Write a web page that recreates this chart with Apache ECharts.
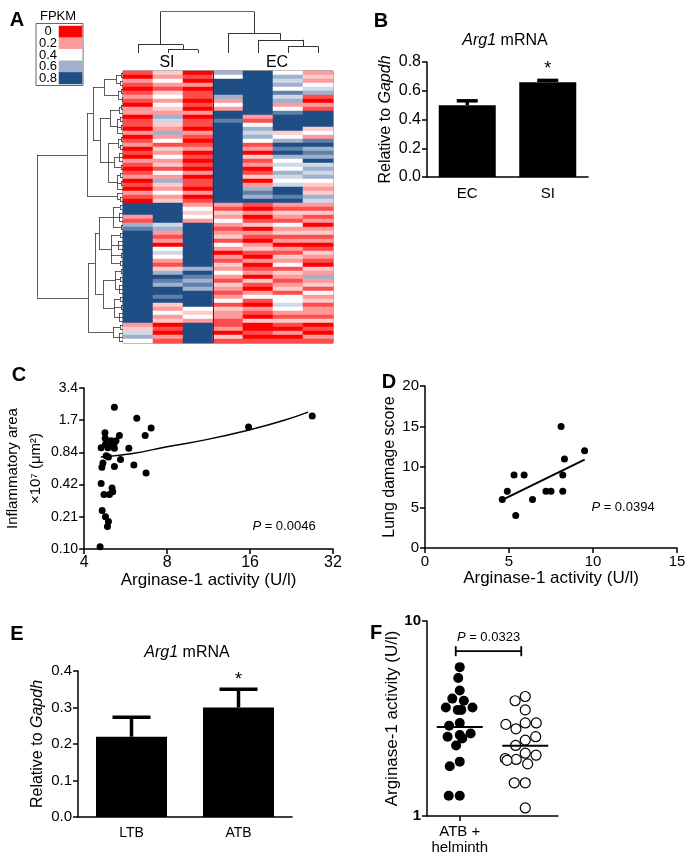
<!DOCTYPE html>
<html><head><meta charset="utf-8">
<script src="https://cdn.jsdelivr.net/npm/echarts@6/dist/echarts.min.js"></script>
<style>html,body{margin:0;padding:0;background:#fff}#c{width:700px;height:862px}</style>
</head><body><div id="c"></div>
<script>
// ================= DATA =================
// Panel A heatmap: one digit per row (value = digit / 10, FPKM scale 0..0.8), top row first
const heatColumns = ['SI-1', 'SI-2', 'SI-3', 'EC-1', 'EC-2', 'EC-3', 'EC-4'];
const heatSI1 = ['102101210220110201201021012010210', '8882167', '88888888888888888888888', '23564'].join('');
const heatSI2 = ['32421342432', '65', '32', '6', '24132423142', '6', '32423', '88888', '56', '2120', '454', '213', '68768878', '32423', '01021'].join('');
const heatSI3 = ['010201101020110210120101020110201', '24342', '88888888888', '6876768', '888', '4342', '88888'].join('');
const heatEC1 = ['648', '888', '6', '242', '887', '88888888888888888888', '213242123142021324213212413221', '12031'].join('');
const heatEC2 = ['88888888888', '21', '46564', '12031201302', '676', '8', '102013021023102012031024102103', '00101'].join('');
const heatEC3 = ['46564756', '24', '78888', '34', '68786', '4546545', '8878', '213214231202132413212314', '454', '213', '10201'].join('');
const heatEC4 = ['2324', '56', '1021', '8888', '342', '786768', '5656', '4323', '65', '213120231201321032', '6', '23142312213', '01021'].join('');
const heatStrings = [heatSI1, heatSI2, heatSI3, heatEC1, heatEC2, heatEC3, heatEC4];
const siColumnCount = 3;
const fpkmLevels = ['0', '0.2', '0.4', '0.6', '0.8'];
// dendrograms: [height, child, child, ...]; leaves are column / row indices
const colTree = [12.5, [2.5, 0, [1, 1, 2]], [6, 3, [4, 4, [2, 5, 6]]]];
const rowTree =
  [86,
    [36,
      [30,
        [19, [7, [2, 0, 1], [3, 2, 3]], [5, [2, 4, 5], [1, 6, 7]]],
        [23,
          [13, [4, [2, 8, 9], 10], [6, [3, 11, 12], [2, 13, 14], 15]],
          [15, [5, [2, 16, 17], [3, 18, 19]], [9, [4, 20, 21, 22], [2, 23, 24]], [6, [3, 25, 26], [2, 27, 28], 29]]]],
      [6, 30, [3, 31, 32]]],
    [35,
      [28,
        [24, [10, [3, 33, 34], [4, 35, 36, 37], [2, 38, 39]], [12, [3, 40, 41], [5, 42, 43, 44], [2, 45, 46], [3, 47, 48]]],
        [20, [8, [2, 49, 50], [3, 51, 52], [4, 53, 54, 55]], [9, [3, 56, 57], [2, 58, 59], [4, 60, 61, 62]]]],
      [10, [3, 63, 64], [4, 65, 66, 67]]]];

// Panel B
const bCategories = ['EC', 'SI'];
const bMeans = [0.50, 0.66];
const bErrors = [0.03, 0.012];
const bSig = ['', '*'];

// Panel C
const cActivity = [5.15, 6.21, 7.0, 6.66, 4.76, 5.37, 4.77, 5.01, 5.22, 4.78, 4.97, 5.14, 4.61, 4.88, 5.15, 5.81, 4.81, 4.90, 5.42, 4.68, 4.64, 5.15, 6.06, 6.71, 4.61, 5.05, 4.72, 4.94, 5.08, 4.65, 4.78, 4.90, 4.86, 4.57, 15.8, 26.9];
const cArea = [2.22, 1.75, 1.42, 1.21, 1.28, 1.21, 1.14, 1.08, 1.08, 1.00, 0.97, 1.02, 0.93, 0.93, 0.92, 0.92, 0.78, 0.76, 0.72, 0.67, 0.61, 0.62, 0.64, 0.54, 0.43, 0.39, 0.34, 0.34, 0.36, 0.24, 0.21, 0.19, 0.17, 0.11, 1.45, 1.84];
const cFitX = [4.6, 6, 8, 11, 16, 21, 26];
const cFitY = [0.76, 0.82, 0.95, 1.1, 1.37, 1.66, 2.0];
const cXTicks = [4, 8, 16, 32];
const cYTickValues = [0.105, 0.21, 0.42, 0.84, 1.68, 3.36];
const cYTickLabels = ['0.10', '0.21', '0.42', '0.84', '1.7', '3.4'];
const cP = '0.0046';

// Panel D
const dActivity = [4.6, 4.9, 5.3, 5.4, 5.9, 6.4, 7.2, 7.5, 8.1, 8.2, 8.2, 8.3, 9.5];
const dScore = [6, 7, 9, 4, 9, 6, 7, 7, 15, 9, 7, 11, 12];
const dFitX = [4.6, 9.5];
const dFitY = [5.95, 10.9];
const dP = '0.0394';

// Panel E
const eCategories = ['LTB', 'ATB'];
const eMeans = [0.22, 0.30];
const eErrors = [0.053, 0.05];
const eSig = ['', '*'];

// Panel F
const fCategories = ['ATB +\nhelminth', 'ATB'];
const fHelminth = [5.8, 5.1, 4.4, 4.0, 3.9, 3.6, 3.6, 3.5, 3.5, 3.0, 2.9, 2.6, 2.65, 2.55, 2.5, 2.3, 1.9, 1.8, 1.27, 1.27];
const fAtb = [4.1, 3.9, 3.5, 3.0, 2.8, 3.0, 2.95, 2.45, 2.55, 2.3, 2.1, 2.05, 1.95, 1.97, 1.93, 1.85, 1.48, 1.48, 1.1];
const fMedians = [2.86, 2.29];
const fBracketLevel = 7.0;
const fP = '0.0323';

// ================= STYLE / BUILD =================
const FONT = '"Liberation Sans", Arial, Helvetica, sans-serif';
const heatPalette = ['#ff0000', '#ff9a9a', '#ffffff', '#9fb1cc', '#1f4e85'];

const heatData = [];
heatStrings.forEach(function (s, c) {
  for (let r = 0; r < s.length; r++) heatData.push([c, r, Number(s[r]) / 10]);
});
const rowIds = heatStrings[0].split('').map(function (_, i) { return String(i); });
const legendData = fpkmLevels.map(function (l, i) { return [0, i, parseFloat(l)]; });

function dendroSegments(tree, horizontal) {
  const segs = [];
  function walk(node) {
    if (typeof node === 'number') return { pos: node, h: 0 };
    const h = node[0];
    const kids = node.slice(1).map(walk);
    const first = kids[0].pos, last = kids[kids.length - 1].pos;
    kids.forEach(function (k) { segs.push([[k.pos, k.h], [k.pos, h]]); });
    segs.push([[first, h], [last, h]]);
    return { pos: (first + last) / 2, h: h };
  }
  walk(tree);
  return segs.map(function (s) {
    return { coords: horizontal ? s.map(function (p) { return [p[1], p[0]]; }) : s };
  });
}

function hiddenAxis(o) { return Object.assign({ show: false }, o); }
function visAxis(o, labelExtra, nameSize) {
  const base = {
    axisLine: { show: true, onZero: false, lineStyle: { color: '#000', width: 1.5 } },
    axisTick: { show: true, length: 5, lineStyle: { color: '#000', width: 1.5 } },
    axisLabel: Object.assign({ color: '#000', fontFamily: FONT, fontSize: 15 }, labelExtra || {}),
    splitLine: { show: false },
    nameLocation: 'middle',
    nameTextStyle: { color: '#000', fontFamily: FONT, fontSize: nameSize || 17,
      rich: { i: { fontStyle: 'italic', color: '#000', fontFamily: FONT, fontSize: nameSize || 17 } } }
  };
  return Object.assign(base, o);
}

function txt(x, y, text, size, extra) {
  return {
    type: 'text', x: x, y: y, silent: true,
    style: Object.assign({
      text: text, fill: '#000', fontFamily: FONT, fontSize: size,
      align: 'center', verticalAlign: 'middle', textAlign: 'center', textVerticalAlign: 'middle',
      rich: { i: { fontStyle: 'italic', fontFamily: FONT, fontSize: size, fill: '#000' } }
    }, extra || {})
  };
}

function errorBars(gi, means, errs, sigs, capW, starOffset) {
  return {
    type: 'custom', xAxisIndex: gi, yAxisIndex: gi, z: 5, silent: true,
    data: means.map(function (m, i) { return [i, m, m + errs[i]]; }),
    renderItem: function (params, api) {
      const base = api.coord([api.value(0), api.value(1)]);
      const top = api.coord([api.value(0), api.value(2)]);
      const st = { stroke: '#000', lineWidth: 3.5 };
      const children = [
        { type: 'line', shape: { x1: base[0], y1: base[1], x2: top[0], y2: top[1] }, style: st },
        { type: 'line', shape: { x1: top[0] - capW / 2, y1: top[1], x2: top[0] + capW / 2, y2: top[1] }, style: st }
      ];
      const star = sigs[params.dataIndex];
      if (star) children.push({
        type: 'text', x: top[0], y: top[1] - starOffset,
        style: { text: star, fill: '#000', fontFamily: FONT, fontSize: 18,
          align: 'center', verticalAlign: 'middle', textAlign: 'center', textVerticalAlign: 'middle' }
      });
      return { type: 'group', children: children };
    }
  };
}

const option = {
  animation: false,
  backgroundColor: '#fff',
  textStyle: { fontFamily: FONT },
  grid: [
    { left: 123, top: 71, width: 210, height: 272, show: true, borderColor: '#555', borderWidth: 1, backgroundColor: 'transparent' }, // 0 heat
    { left: 59, top: 26, width: 23, height: 58 },   // 1 legend
    { left: 123, top: 11.7, width: 210, height: 41.3 }, // 2 col dendro
    { left: 37, top: 71, width: 86, height: 272 },  // 3 row dendro
    { left: 123, top: 71, width: 210, height: 272 }, // 4 separator
    { left: 427, top: 62, width: 161, height: 115 }, // 5 B
    { left: 83, top: 388, width: 250, height: 161 }, // 6 C
    { left: 425, top: 386, width: 252, height: 162 }, // 7 D
    { left: 78, top: 671, width: 214, height: 146 }, // 8 E
    { left: 427, top: 621, width: 131, height: 195 } // 9 F
  ],
  xAxis: [
    hiddenAxis({ type: 'category', gridIndex: 0, data: heatColumns }),
    hiddenAxis({ type: 'category', gridIndex: 1, data: ['FPKM'] }),
    hiddenAxis({ type: 'value', gridIndex: 2, min: -0.5, max: heatColumns.length - 0.5 }),
    hiddenAxis({ type: 'value', gridIndex: 3, min: 0, max: rowTree[0], inverse: true }),
    hiddenAxis({ type: 'value', gridIndex: 4, min: -0.5, max: heatColumns.length - 0.5 }),
    visAxis({ type: 'category', gridIndex: 5, data: bCategories, axisTick: { show: false } }, { fontSize: 15, margin: 9 }),
    visAxis({ type: 'log', gridIndex: 6, logBase: 2, min: 4, max: 32,
      name: 'Arginase-1 activity (U/l)', nameGap: 21,
      axisTick: { show: true, length: 5, customValues: cXTicks, lineStyle: { color: '#000', width: 1.5 } } },
      { fontSize: 16, margin: 6, customValues: cXTicks }),
    visAxis({ type: 'value', gridIndex: 7, min: 0, max: 15, interval: 5,
      name: 'Arginase-1 activity (U/l)', nameGap: 21 }, { fontSize: 15, margin: 6 }),
    visAxis({ type: 'category', gridIndex: 8, data: eCategories, axisTick: { show: false } }, { fontSize: 14, margin: 9 }),
    visAxis({ type: 'category', gridIndex: 9, data: fCategories, jitter: 40, jitterOverlap: false, jitterMargin: 1,
      axisTick: { show: true, alignWithLabel: true, length: 5, lineStyle: { color: '#000', width: 1.5 } } },
      { fontSize: 15, margin: 8, lineHeight: 16 })
  ],
  yAxis: [
    hiddenAxis({ type: 'category', gridIndex: 0, data: rowIds, inverse: true }),
    { type: 'category', gridIndex: 1, data: fpkmLevels, inverse: true,
      axisLine: { show: false }, axisTick: { show: false }, splitLine: { show: false },
      axisLabel: { color: '#000', fontFamily: FONT, fontSize: 13, align: 'center', margin: 11, interval: 0 } },
    hiddenAxis({ type: 'value', gridIndex: 2, min: 0, max: colTree[0] }),
    hiddenAxis({ type: 'value', gridIndex: 3, min: -0.5, max: rowIds.length - 0.5, inverse: true }),
    hiddenAxis({ type: 'value', gridIndex: 4, min: 0, max: 1 }),
    visAxis({ type: 'value', gridIndex: 5, min: 0, max: 0.8, interval: 0.2,
      name: 'Relative to {i|Gapdh}', nameGap: 33 },
      { fontSize: 16, margin: 6, formatter: function (v) { return v.toFixed(1); } }, 16),
    visAxis({ type: 'log', gridIndex: 6, logBase: 2, min: cYTickValues[0], max: cYTickValues[cYTickValues.length - 1],
      name: 'Inflammatory area\n×10⁷ (μm²)', nameGap: 34,
      nameTextStyle: { color: '#000', fontFamily: FONT, fontSize: 15, lineHeight: 23 },
      axisTick: { show: true, length: 5, customValues: cYTickValues, lineStyle: { color: '#000', width: 1.5 } } },
      { fontSize: 14, margin: 6, customValues: cYTickValues,
        formatter: function (v) {
          let best = 0;
          cYTickValues.forEach(function (t, i) { if (Math.abs(Math.log(t / v)) < Math.abs(Math.log(cYTickValues[best] / v))) best = i; });
          return cYTickLabels[best];
        } }),
    visAxis({ type: 'value', gridIndex: 7, min: 0, max: 20, interval: 5,
      name: 'Lung damage score', nameGap: 27 }, { fontSize: 15, margin: 6 }, 16),
    visAxis({ type: 'value', gridIndex: 8, min: 0, max: 0.4, interval: 0.1,
      name: 'Relative to {i|Gapdh}', nameGap: 32 },
      { fontSize: 15, margin: 6, formatter: function (v) { return v.toFixed(1); } }, 16),
    visAxis({ type: 'log', gridIndex: 9, logBase: 10, min: 1, max: 10,
      name: 'Arginase-1 activity (U/l)', nameGap: 22, minorTick: { show: false } },
      { fontSize: 15, fontWeight: 'bold', margin: 6 })
  ],
  visualMap: [{
    type: 'continuous', show: false, min: 0, max: 0.8, seriesIndex: [0, 1],
    inRange: { color: heatPalette }
  }],
  series: [
    { type: 'heatmap', xAxisIndex: 0, yAxisIndex: 0, data: heatData, silent: true, progressive: 0,
      itemStyle: { borderWidth: 0 } },
    { type: 'heatmap', xAxisIndex: 1, yAxisIndex: 1, data: legendData, silent: true, itemStyle: { borderWidth: 0 } },
    { type: 'lines', coordinateSystem: 'cartesian2d', xAxisIndex: 2, yAxisIndex: 2, silent: true,
      data: dendroSegments(colTree, false), lineStyle: { color: '#333', width: 1, opacity: 1 } },
    { type: 'lines', coordinateSystem: 'cartesian2d', xAxisIndex: 3, yAxisIndex: 3, silent: true,
      data: dendroSegments(rowTree, true), lineStyle: { color: '#333', width: 0.8, opacity: 1 } },
    { type: 'lines', coordinateSystem: 'cartesian2d', xAxisIndex: 4, yAxisIndex: 4, silent: true, z: 10,
      data: [{ coords: [[siColumnCount - 0.5, 0], [siColumnCount - 0.5, 1]] }],
      lineStyle: { color: '#333', width: 1, opacity: 1 } },
    // B
    { type: 'bar', xAxisIndex: 5, yAxisIndex: 5, data: bMeans, barWidth: 57, itemStyle: { color: '#000' }, silent: true },
    errorBars(5, bMeans, bErrors, bSig, 21, 11),
    // C
    { type: 'scatter', xAxisIndex: 6, yAxisIndex: 6, symbolSize: 7, itemStyle: { color: '#000', opacity: 1 }, silent: true,
      data: cActivity.map(function (x, i) { return [x, cArea[i]]; }) },
    { type: 'line', xAxisIndex: 6, yAxisIndex: 6, smooth: true, showSymbol: false, silent: true,
      lineStyle: { color: '#000', width: 1.5 }, data: cFitX.map(function (x, i) { return [x, cFitY[i]]; }) },
    // D
    { type: 'scatter', xAxisIndex: 7, yAxisIndex: 7, symbolSize: 7, itemStyle: { color: '#000', opacity: 1 }, silent: true,
      data: dActivity.map(function (x, i) { return [x, dScore[i]]; }) },
    { type: 'line', xAxisIndex: 7, yAxisIndex: 7, showSymbol: false, silent: true,
      lineStyle: { color: '#000', width: 2 }, data: dFitX.map(function (x, i) { return [x, dFitY[i]]; }) },
    // E
    { type: 'bar', xAxisIndex: 8, yAxisIndex: 8, data: eMeans, barWidth: 71, itemStyle: { color: '#000' }, silent: true },
    errorBars(8, eMeans, eErrors, eSig, 38, 9),
    // F
    { type: 'scatter', xAxisIndex: 9, yAxisIndex: 9, symbolSize: 10, silent: true,
      itemStyle: { color: '#000', opacity: 1 }, data: fHelminth.map(function (v) { return [0, v]; }) },
    { type: 'scatter', xAxisIndex: 9, yAxisIndex: 9, symbolSize: 10, silent: true,
      itemStyle: { color: '#fff', borderColor: '#000', borderWidth: 1.2, opacity: 1 },
      data: fAtb.map(function (v) { return [1, v]; }) },
    { type: 'custom', xAxisIndex: 9, yAxisIndex: 9, z: 5, silent: true,
      data: fMedians.map(function (m, i) { return [i, m]; }),
      renderItem: function (params, api) {
        const p = api.coord([api.value(0), api.value(1)]);
        return { type: 'line', shape: { x1: p[0] - 23, y1: p[1], x2: p[0] + 23, y2: p[1] }, style: { stroke: '#000', lineWidth: 2 } };
      } },
    { type: 'custom', xAxisIndex: 9, yAxisIndex: 9, z: 5, silent: true,
      data: [[0, 1, fBracketLevel]],
      renderItem: function (params, api) {
        const a = api.coord([api.value(0), api.value(2)]);
        const b = api.coord([api.value(1), api.value(2)]);
        const st = { stroke: '#000', lineWidth: 1.8 };
        return { type: 'group', children: [
          { type: 'line', shape: { x1: a[0] - 4, y1: a[1], x2: b[0] - 4, y2: b[1] }, style: st },
          { type: 'line', shape: { x1: a[0] - 4, y1: a[1] - 5, x2: a[0] - 4, y2: a[1] + 5 }, style: st },
          { type: 'line', shape: { x1: b[0] - 4, y1: b[1] - 5, x2: b[0] - 4, y2: b[1] + 5 }, style: st },
          { type: 'text', x: (a[0] + b[0]) / 2 - 4, y: a[1] - 14,
            style: { text: '{i|P} = ' + fP, fill: '#000', fontFamily: FONT, fontSize: 13,
              align: 'center', verticalAlign: 'middle', textAlign: 'center', textVerticalAlign: 'middle',
              rich: { i: { fontStyle: 'italic', fontFamily: FONT, fontSize: 13, fill: '#000' } } } }
        ] };
      } }
  ],
  graphic: [
    { type: 'rect', shape: { x: 36, y: 23.5, width: 47, height: 62 }, style: { fill: 'none', stroke: '#666', lineWidth: 1 }, silent: true },
    txt(58, 16, 'FPKM', 13),
    txt(167, 63, 'SI', 16),
    txt(277, 63, 'EC', 16),
    txt(17, 20, 'A', 20, { fontWeight: 'bold' }),
    txt(381, 21, 'B', 20, { fontWeight: 'bold' }),
    txt(19, 375, 'C', 20, { fontWeight: 'bold' }),
    txt(389, 382, 'D', 20, { fontWeight: 'bold' }),
    txt(17, 634, 'E', 20, { fontWeight: 'bold' }),
    txt(376, 633, 'F', 20, { fontWeight: 'bold' }),
    txt(505, 41, '{i|Arg1} mRNA', 16),
    txt(187, 653, '{i|Arg1} mRNA', 16),
    txt(284, 526, '{i|P} = ' + cP, 13),
    txt(623, 507, '{i|P} = ' + dP, 13)
  ]
};

const chart = echarts.init(document.getElementById('c'), null, { renderer: 'canvas' });
chart.setOption(option);
</script>
</body></html>
